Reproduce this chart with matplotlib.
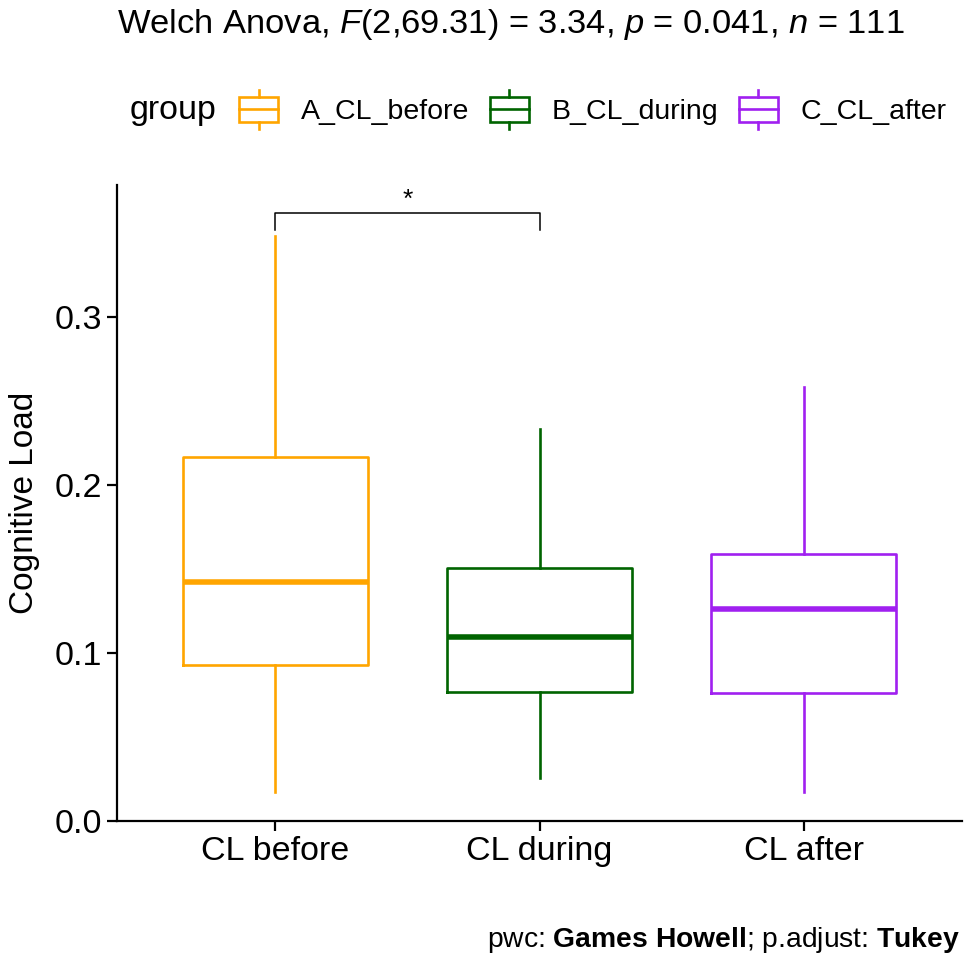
import matplotlib
matplotlib.use("Agg")
import matplotlib.pyplot as plt
from matplotlib.legend_handler import HandlerBase
from matplotlib.patches import Rectangle
from matplotlib.lines import Line2D

plt.rcParams['font.family'] = ['Liberation Sans', 'DejaVu Sans']
plt.rcParams['mathtext.fontset'] = 'custom'
plt.rcParams['mathtext.rm'] = 'Liberation Sans'
plt.rcParams['mathtext.it'] = 'Liberation Sans:italic'
plt.rcParams['mathtext.bf'] = 'Liberation Sans:bold'

# ---- data ----
categories = ["CL before", "CL during", "CL after"]
groups = ["A_CL_before", "B_CL_during", "C_CL_after"]
colors = ["#FFA500", "#006400", "#A020F0"]
whisker_low = [0.0173, 0.0256, 0.0173]
q1 = [0.0929, 0.0768, 0.0762]
median = [0.1423, 0.1095, 0.1262]
q3 = [0.2167, 0.1506, 0.1589]
whisker_high = [0.3480, 0.2333, 0.2583]
yticks = [0.0, 0.1, 0.2, 0.3]
bracket_pair = (1, 2)
bracket_y = 0.3619
bracket_label = "*"
title_text = r"Welch Anova, $\mathit{F}$(2,69.31) = 3.34, $\mathit{p}$ = 0.041, $\mathit{n}$ = 111"
caption_text = r"pwc: $\mathbf{Games\ Howell}$; p.adjust: $\mathbf{Tukey}$"

W, H = 965, 956
fig = plt.figure(figsize=(W / 100, H / 100), dpi=100)
ax = fig.add_axes([117 / W, 1 - 821 / H, (962 - 117) / W, (821 - 185) / H])

LW = 1.9
positions = list(range(1, len(categories) + 1))
for i, pos in enumerate(positions):
    stats = [dict(whislo=whisker_low[i], q1=q1[i], med=median[i], q3=q3[i], whishi=whisker_high[i], fliers=[])]
    c = colors[i]
    ax.bxp(stats, positions=[pos], widths=0.7, showcaps=False, showfliers=False,
           boxprops=dict(color=c, linewidth=LW),
           whiskerprops=dict(color=c, linewidth=LW),
           medianprops=dict(color=c, linewidth=LW * 2.1, solid_capstyle='butt'),
           manage_ticks=False)

ax.set_xlim(0.4, len(categories) + 0.6)
ax.set_ylim(0, 0.3786)
ax.set_xticks(positions)
ax.set_xticklabels(categories)
ax.set_yticks(yticks)
ax.set_yticklabels([f"{t:.1f}" for t in yticks])
ax.tick_params(labelsize=24.5, width=1.6, length=7, color='black', labelcolor='black', pad=4)
for s in ['top', 'right']:
    ax.spines[s].set_visible(False)
for s in ['left', 'bottom']:
    ax.spines[s].set_linewidth(1.6)
ax.set_ylabel("Cognitive Load", fontsize=24, labelpad=10)

# bracket
x1, x2 = bracket_pair
tip = 0.0101
ax.plot([x1, x1, x2, x2], [bracket_y - tip, bracket_y, bracket_y, bracket_y - tip],
        color='black', lw=1.1, clip_on=False)
ax.text((x1 + x2) / 2, bracket_y + 0.001, bracket_label, ha='center', va='bottom', fontsize=19)

# title and caption
fig.text(117 / W, 1 - 24 / H, title_text, fontsize=24.8, ha='left', va='center')
fig.text(960 / W, 1 - 940 / H, caption_text, fontsize=20.3, ha='right', va='center')


class BoxHandler(HandlerBase):
    def create_artists(self, legend, orig_handle, xdescent, ydescent, width, height, fontsize, trans):
        c = orig_handle.get_color()
        x0 = -xdescent
        y0 = -ydescent
        rect = Rectangle((x0, y0), width, height, fill=False, ec=c, lw=LW, transform=trans)
        med = Line2D([x0, x0 + width], [y0 + height / 2] * 2, color=c, lw=LW, transform=trans)
        wl = Line2D([x0 + width / 2] * 2, [y0 - height * 0.3, y0], color=c, lw=LW, transform=trans)
        wu = Line2D([x0 + width / 2] * 2, [y0 + height, y0 + height * 1.3], color=c, lw=LW, transform=trans)
        return [rect, med, wl, wu]


handles = [Line2D([], [], color=c) for c in colors]
fig.text(130 / W, 1 - 111 / H, "group", fontsize=24.5, ha='left', va='center')
leg = fig.legend(handles, groups, ncol=3, loc='center left', bbox_to_anchor=(239 / W, 1 - 111 / H),
                 frameon=False, fontsize=20.5, handler_map={Line2D: BoxHandler()},
                 handlelength=1.37, handleheight=0.95, handletextpad=0.8, columnspacing=0.72,
                 borderaxespad=0, borderpad=0)

fig.savefig("out.png", dpi=100)
